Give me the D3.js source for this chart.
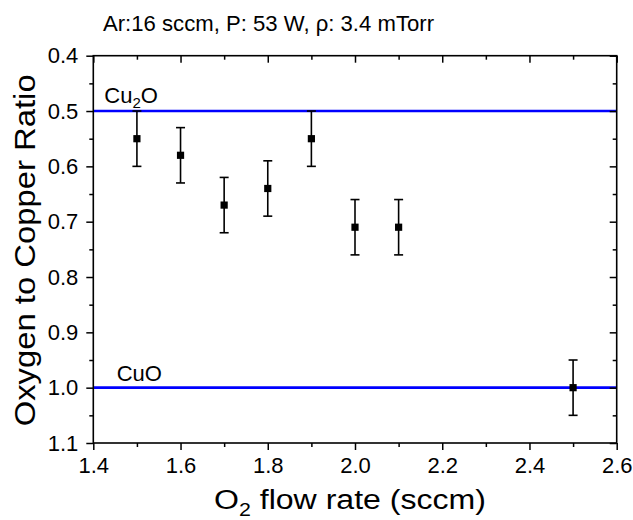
<!DOCTYPE html>
<html>
<head>
<meta charset="utf-8">
<script src="https://cdn.jsdelivr.net/npm/d3@7"></script>
<style>
  html, body { margin: 0; padding: 0; background: #fff; }
  svg { display: block; font-family: 'Liberation Sans', Arial, sans-serif; }
</style>
</head>
<body>
<div id="chart"></div>
<script>
// O2 flow rate vs oxygen/copper ratio
const flowRates = [1.5, 1.6, 1.7, 1.8, 1.9, 2.0, 2.1, 2.5];
const ratios = [0.55, 0.58, 0.67, 0.64, 0.55, 0.71, 0.71, 1.00];
const ratioErrors = [0.05, 0.05, 0.05, 0.05, 0.05, 0.05, 0.05, 0.05];
const xMajorTicks = [1.4, 1.6, 1.8, 2.0, 2.2, 2.4, 2.6];
const xMinorTicks = [1.5, 1.7, 1.9, 2.1, 2.3, 2.5];
const yMajorTicks = [0.4, 0.5, 0.6, 0.7, 0.8, 0.9, 1.0, 1.1];
const yMinorTicks = [0.45, 0.55, 0.65, 0.75, 0.85, 0.95, 1.05];
const refLines = [{ name: 'Cu2O', value: 0.5 }, { name: 'CuO', value: 1.0 }];

(function () {
  const width = 633, height = 520;
  const left = 93.3, right = 616.7, top = 55.7, bottom = 443;

  const svg = d3.select('#chart').append('svg').attr('width', width).attr('height', height);

  const x = d3.scaleLinear().domain([1.4, 2.6]).range([left, right]);
  const y = d3.scaleLinear().domain([0.4, 1.1]).range([top, bottom]);

  const rows = flowRates.map((f, i) => ({ x: f, y: ratios[i], e: ratioErrors[i] }));

  // reference lines for the two oxides
  svg.append('g').selectAll('line').data(refLines).join('line')
    .attr('x1', left).attr('x2', right)
    .attr('y1', d => y(d.value)).attr('y2', d => y(d.value))
    .attr('stroke', '#0000ff').attr('stroke-width', 2.6);

  const cu2o = svg.append('text').attr('x', 104.3).attr('y', y(0.5) - 8).style('font-size', '22px').attr('fill', '#000');
  cu2o.append('tspan').text('Cu');
  cu2o.append('tspan').attr('dy', 5).style('font-size', '15px').text('2');
  cu2o.append('tspan').attr('dy', -5).text('O');
  svg.append('text').attr('x', 116.7).attr('y', y(1.0) - 7).style('font-size', '22px').attr('fill', '#000').text('CuO');

  // axes: bottom/left ticks out, top/right ticks in
  const fmt = d3.format('.1f');
  const axisStyle = g => {
    g.select('.domain').remove();
    g.selectAll('line').attr('stroke', '#000').attr('stroke-width', 1.5);
    g.selectAll('text').style('font-size', '22px').attr('fill', '#000').style('font-family', "'Liberation Sans', Arial, sans-serif");
  };

  svg.append('g').attr('transform', `translate(0,${bottom})`)
    .call(d3.axisBottom(x).tickValues(xMajorTicks).tickFormat(fmt).tickSize(7).tickPadding(7).tickSizeOuter(0)).call(axisStyle);
  svg.append('g').attr('transform', `translate(0,${bottom})`)
    .call(d3.axisBottom(x).tickValues(xMinorTicks).tickFormat('').tickSize(4).tickSizeOuter(0)).call(axisStyle);
  svg.append('g').attr('transform', `translate(${left},0)`)
    .call(d3.axisLeft(y).tickValues(yMajorTicks).tickFormat(fmt).tickSize(7).tickPadding(8).tickSizeOuter(0)).call(axisStyle);
  svg.append('g').attr('transform', `translate(${left},0)`)
    .call(d3.axisLeft(y).tickValues(yMinorTicks).tickFormat('').tickSize(4).tickSizeOuter(0)).call(axisStyle);

  svg.append('g').attr('transform', `translate(0,${top})`)
    .call(d3.axisTop(x).tickValues(xMajorTicks).tickFormat('').tickSize(-7).tickSizeOuter(0)).call(axisStyle);
  svg.append('g').attr('transform', `translate(0,${top})`)
    .call(d3.axisTop(x).tickValues(xMinorTicks).tickFormat('').tickSize(-4).tickSizeOuter(0)).call(axisStyle);
  svg.append('g').attr('transform', `translate(${right},0)`)
    .call(d3.axisRight(y).tickValues(yMajorTicks).tickFormat('').tickSize(-7).tickSizeOuter(0)).call(axisStyle);
  svg.append('g').attr('transform', `translate(${right},0)`)
    .call(d3.axisRight(y).tickValues(yMinorTicks).tickFormat('').tickSize(-4).tickSizeOuter(0)).call(axisStyle);

  svg.append('rect').attr('x', left).attr('y', top).attr('width', right - left).attr('height', bottom - top)
    .attr('fill', 'none').attr('stroke', '#000').attr('stroke-width', 1.6);

  // error bars + square markers
  const pts = svg.append('g').selectAll('g').data(rows).join('g');
  pts.append('line')
    .attr('x1', d => x(d.x)).attr('x2', d => x(d.x))
    .attr('y1', d => y(d.y - d.e)).attr('y2', d => y(d.y + d.e))
    .attr('stroke', '#000').attr('stroke-width', 1.6);
  pts.selectAll('line.cap').data(d => [d.y - d.e, d.y + d.e].map(v => ({ x: d.x, v }))).join('line')
    .attr('class', 'cap')
    .attr('x1', d => x(d.x) - 4.5).attr('x2', d => x(d.x) + 4.5)
    .attr('y1', d => y(d.v)).attr('y2', d => y(d.v))
    .attr('stroke', '#000').attr('stroke-width', 1.6);
  pts.append('rect')
    .attr('x', d => x(d.x) - 3.6).attr('y', d => y(d.y) - 3.6)
    .attr('width', 7.2).attr('height', 7.2).attr('fill', '#000');

  // titles
  svg.append('text').attr('x', 103).attr('y', 31).style('font-size', '22px').attr('fill', '#000')
    .attr('textLength', 331).attr('lengthAdjust', 'spacingAndGlyphs')
    .text('Ar:16 sccm, P: 53 W, \u03c1: 3.4 mTorr');

  const xt = svg.append('text').attr('x', 214).attr('y', 509).style('font-size', '27px').attr('fill', '#000')
    .attr('textLength', 272).attr('lengthAdjust', 'spacingAndGlyphs');
  xt.append('tspan').text('O');
  xt.append('tspan').attr('dy', 7).style('font-size', '18px').text('2');
  xt.append('tspan').attr('dy', -7).text(' flow rate (sccm)');

  svg.append('text').attr('transform', `translate(35,${(top + bottom) / 2 + 1}) rotate(-90)`)
    .attr('text-anchor', 'middle').style('font-size', '29px').attr('fill', '#000')
    .attr('textLength', 352).attr('lengthAdjust', 'spacingAndGlyphs')
    .text('Oxygen to Copper Ratio');
})();
</script>
</body>
</html>
